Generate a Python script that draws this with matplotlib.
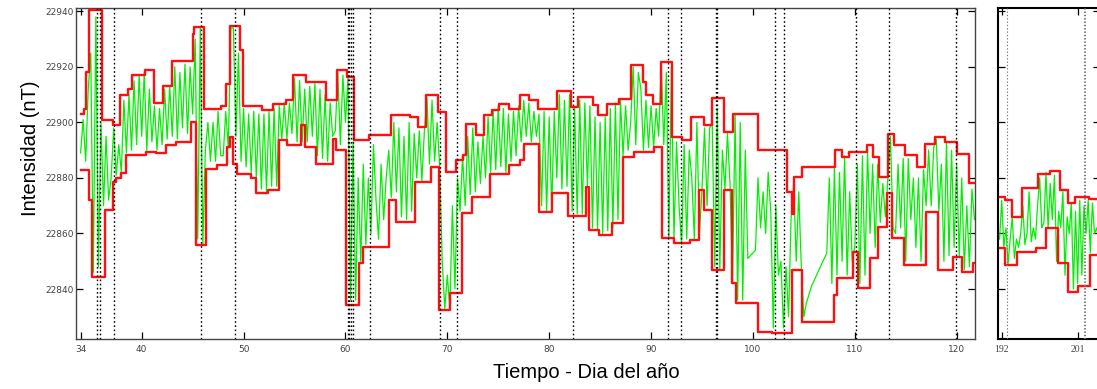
import numpy as np
import matplotlib
matplotlib.use('Agg')
import matplotlib.pyplot as plt

# Envolvente superior / inferior (escalones diarios), periodo principal
dias_sup = [34.0, 34.3, 34.55, 34.8, 36.1, 37.2, 37.9, 38.7, 39.0, 40.3, 41.2, 42.1, 43.0, 45.0,
            45.15, 46.1, 47.8, 48.3, 48.7, 49.6, 49.9, 51.85, 52.85, 54.2, 54.9, 56.1, 58.1, 59.2,
            60.2, 60.8, 62.3, 64.5, 66.3, 67.1, 67.9, 69.05, 69.85, 70.85, 71.5, 71.8, 72.8, 73.6,
            74.4, 75.1, 76.1, 77.1, 78.0, 78.9, 80.8, 82.1, 82.8, 84.3, 84.8, 85.7, 86.9, 88.0,
            89.2, 89.5, 90.15, 90.95, 92.1, 93.0, 93.9, 95.2, 96.0, 97.2, 98.0, 100.5, 103.3, 103.8,
            104.0, 104.8, 108.1, 108.7, 109.4, 111.2, 111.8, 112.4, 113.3, 113.8, 114.9, 116.1,
            116.9, 117.9, 118.9, 120.0, 121.2]
val_sup = [22903, 22905, 22918, 22940.3, 22901, 22899, 22910, 22912, 22917, 22919, 22907, 22913,
           22922, 22932, 22934.5, 22905, 22906, 22914, 22934.6, 22926, 22906, 22904.4, 22906.8,
           22908, 22917, 22914.6, 22908, 22919, 22916.4, 22893.6, 22895.4, 22902.6, 22902,
           22898.4, 22909.8, 22903.8, 22882.2, 22886.4, 22888.2, 22899.6, 22895.4, 22902.6,
           22904.4, 22906.8, 22905, 22909.8, 22908, 22905, 22911.3, 22905.6, 22909.2, 22906.2,
           22902.6, 22906.5, 22908.6, 22920.6, 22914.6, 22910, 22906.8, 22921.8, 22894.8,
           22893.6, 22902, 22899, 22908.8, 22896.6, 22903.2, 22890, 22875, 22867, 22880.4, 22884,
           22890, 22887.6, 22889.4, 22891.8, 22887.6, 22880.4, 22896, 22891.8, 22888.2, 22884,
           22892.2, 22894.8, 22893, 22888.8, 22878.2]

dias_inf = [34.0, 34.85, 35.1, 36.4, 37.15, 37.5, 38.0, 38.5, 40.4, 41.4, 42.4, 43.4, 44.8, 45.3,
            46.3, 47.4, 48.4, 48.7, 48.95, 49.4, 50.7, 51.2, 52.4, 53.5, 54.3, 55.6, 56.0, 57.1,
            58.75, 59.1, 60.1, 61.35, 61.7, 64.3, 65.0, 66.8, 68.4, 69.2, 70.3, 71.4, 72.4, 74.2,
            76.1, 77.1, 77.5, 79.0, 80.3, 81.8, 83.6, 83.9, 84.9, 86.2, 87.2, 88.3, 90.3, 91.1,
            92.3, 93.8, 94.7, 95.2, 96.0, 97.2, 97.9, 98.3, 100.5, 101.9, 103.8, 104.8, 108.0,
            108.3, 109.8, 110.3, 111.5, 112.3, 113.2, 113.7, 114.8, 117.0, 118.2, 119.6, 120.5,
            121.6]
val_inf = [22883, 22872, 22844.4, 22868.4, 22878.6, 22880, 22881.7, 22888.2, 22889.4, 22889,
           22891.8, 22893, 22900.2, 22856, 22883.4, 22884.6, 22891, 22894.8, 22885.2, 22881.6,
           22879.8, 22874.4, 22875.6, 22893.6, 22891.8, 22899, 22891.2, 22885.2, 22894.2, 22890,
           22834.2, 22849.2, 22855.2, 22872, 22864.2, 22878.6, 22884, 22832.4, 22838.4, 22867.2,
           22873.2, 22881.6, 22884.6, 22886.4, 22892.4, 22867.8, 22874.4, 22866.3, 22876.8,
           22861.2, 22859.4, 22863.6, 22887.6, 22889.4, 22891.2, 22858.2, 22856.4, 22857.6,
           22875.6, 22868.4, 22846.8, 22875.6, 22842, 22834.8, 22824.6, 22824, 22846.8, 22828,
           22838, 22844, 22853.4, 22840.3, 22851, 22862.4, 22874.4, 22858.2, 22848.6, 22867.8,
           22847, 22851.6, 22846.2, 22849.2]
fin_1 = 121.8

# Intensidad medida, 4 muestras por dia desde el dia 34
dia0_1 = 34.0
verde_1 = [
    22889, 22901, 22886, 22912,  22925, 22846, 22938, 22848,  22900, 22870, 22895, 22872,
    22880, 22898, 22881, 22892,  22882, 22908, 22889, 22910,  22890, 22915, 22892, 22917,
    22895, 22918, 22890, 22912,  22893, 22906, 22890, 22905,  22892, 22912, 22894, 22913,
    22895, 22920, 22894, 22918,  22898, 22921, 22896, 22920,  22903, 22930, 22858, 22934,
    22856, 22890, 22900, 22886,  22900, 22886, 22904, 22888,  22888, 22904, 22891, 22934,
    22934, 22895, 22925, 22886,  22905, 22884, 22903, 22882,  22904, 22880, 22903, 22876,
    22903, 22875, 22904, 22877,  22905, 22877, 22906, 22894,  22907, 22894, 22907, 22896,
    22916, 22893, 22915, 22893,  22912, 22893, 22913, 22895,  22914, 22888, 22912, 22887,
    22910, 22886, 22907, 22895,  22897, 22918, 22892, 22917,  22900, 22916, 22836, 22893,
    22836, 22880, 22850, 22885,  22856, 22880, 22860, 22892,  22872, 22858, 22885, 22865,
    22880, 22890, 22873, 22900,  22875, 22898, 22866, 22895,  22865, 22900, 22868, 22896,
    22880, 22897, 22879, 22897,  22909, 22885, 22908, 22886,  22900, 22884, 22850, 22833,
    22845, 22833, 22870, 22840,  22880, 22868, 22888, 22870,  22895, 22874, 22898, 22875,
    22893, 22878, 22895, 22880,  22902, 22882, 22904, 22883,  22906, 22884, 22905, 22882,
    22903, 22886, 22904, 22888,  22906, 22893, 22908, 22895,  22907, 22893, 22904, 22895,
    22903, 22870, 22904, 22868,  22902, 22869, 22904, 22880,  22910, 22876, 22908, 22877,
    22910, 22868, 22905, 22867,  22908, 22867, 22907, 22877,  22906, 22862, 22902, 22861,
    22900, 22860, 22902, 22861,  22905, 22862, 22907, 22865,  22908, 22888, 22906, 22890,
    22900, 22920, 22892, 22918,  22912, 22890, 22908, 22891,  22906, 22891, 22905, 22895,
    22921, 22892, 22918, 22858,  22920, 22858, 22893, 22870,  22856, 22892, 22858, 22890,
    22880, 22858, 22900, 22860,  22876, 22898, 22870, 22898,  22900, 22848, 22905, 22847,
    22890, 22876, 22896, 22878,  22842, 22903, 22836, 22900,  22836, 22890, 22851, 22852,
    22853, 22854, 22880, 22862,  22875, 22860, 22882, 22868,  22826, 22870, 22845, 22850,
    22826, 22848, 22830, 22866,  22878, 22850, 22875, 22848,  22830, 22835, 22838, 22841,
    22843, 22845, 22847, 22849,  22851, 22853, 22880, 22842,  22884, 22845, 22882, 22850,
    22888, 22845, 22875, 22850,  22855, 22885, 22842, 22888,  22845, 22890, 22860, 22885,
    22855, 22885, 22864, 22878,  22866, 22880, 22895, 22862,  22860, 22885, 22862, 22887,
    22850, 22887, 22865, 22880,  22855, 22880, 22850, 22883,  22870, 22890, 22870, 22891,
    22894, 22868, 22885, 22850,  22893, 22852, 22890, 22855,  22885, 22852, 22880, 22847,
    22870, 22848, 22876, 22865,
]

# Segundo periodo (dias 192 - 203)
dias_sup2 = [191.8, 192.4, 193.2, 194.4, 196.3, 197.7, 198.9, 199.9, 200.7, 202.3]
val_sup2 = [22873.2, 22872, 22866, 22876.2, 22881.4, 22882.6, 22875.6, 22871, 22873.2, 22872.3]
dias_inf2 = [191.8, 192.4, 193.8, 196.1, 197.3, 198.7, 199.9, 201.1, 202.5]
val_inf2 = [22854.6, 22848.6, 22853.4, 22854.6, 22861.8, 22849.2, 22839, 22841, 22852.2]
fin_2 = 203.65

dia0_2 = 191.75
verde_2 = [
    22858,
    22872, 22855, 22862, 22849,  22858, 22866, 22851, 22858,  22855, 22860, 22870, 22856,
    22860, 22875, 22857, 22862,  22858, 22870, 22880, 22862,  22864, 22882, 22862, 22878,
    22865, 22881, 22850, 22868,  22862, 22875, 22845, 22866,  22860, 22871, 22840, 22868,
    22842, 22872, 22845, 22870,  22860, 22872, 22853, 22871,  22860, 22862, 22858,
]

# Eventos (lineas punteadas)
eventos_1 = [35.66, 35.92, 37.24, 45.78, 49.2, 60.26, 60.39, 60.52, 60.71, 62.37, 69.25, 70.97,
             82.32, 91.7, 92.91, 96.37, 96.5, 102.19, 103.04, 110.07, 113.36, 119.93]
eventos_2 = [192.6, 201.7, 201.9]

ticks_x1 = [34, 40, 50, 60, 70, 80, 90, 100, 110, 120]
ticks_x2 = [192, 201]
ticks_y = [22840, 22860, 22880, 22900, 22920, 22940]


def envolvente(ax, dias, vals, fin):
    # escalon hasta el final del periodo
    ax.step(list(dias) + [fin], list(vals) + [vals[-1]], where='post',
            color='#ff1010', lw=1.7, zorder=3)


def panel(ax, dia0, verde, d_sup, v_sup, d_inf, v_inf, fin, eventos, ev_color, ev_lw):
    t = dia0 + np.arange(len(verde)) / 4.0
    ax.plot(t, verde, color='#00f000', lw=0.9, zorder=2)
    envolvente(ax, d_sup, v_sup, fin)
    envolvente(ax, d_inf, v_inf, fin)
    for e in eventos:
        ax.axvline(e, color=ev_color, lw=ev_lw, ls=(0, (1.2, 1.8)), zorder=4)
    ax.set_ylim(22822, 22941.2)
    ax.set_yticks(ticks_y)
    ax.tick_params(direction='in', top=True, right=True, length=5, width=0.9,
                   labelsize=6.5, labelcolor='#444444', pad=4)
    ax.tick_params(axis='y', pad=1.5)


fig = plt.figure(figsize=(10.97, 3.89), dpi=100)
ax1 = fig.add_axes([76 / 1097, 50 / 389, 899 / 1097, 331 / 389])
ax2 = fig.add_axes([998 / 1097, 50 / 389, 102 / 1097, 331 / 389])

panel(ax1, dia0_1, verde_1, dias_sup, val_sup, dias_inf, val_inf, fin_1, eventos_1, 'black', 1.0)
ax1.set_xlim(33.55, fin_1)
ax1.set_xticks(ticks_x1)
for s in ax1.spines.values():
    s.set_color('#444444')
    s.set_linewidth(1.0)

panel(ax2, dia0_2, verde_2, dias_sup2, val_sup2, dias_inf2, val_inf2, fin_2, eventos_2, '#777777', 0.8)
ax2.set_xlim(191.56, fin_2)
ax2.set_xticks(ticks_x2)
ax2.tick_params(labelleft=False)
for lab in ax2.get_xticklabels():
    lab.set_family('Liberation Serif')
    lab.set_fontsize(7)
for s in ax2.spines.values():
    s.set_color('black')
    s.set_linewidth(1.5)

fig.text(30 / 1097, 1 - 148 / 389, 'Intensidad (nT)', rotation=90, ha='center', va='center',
         fontsize=14.5, family='Liberation Sans')
fig.text(586 / 1097, 1 - 373 / 389, 'Tiempo - Dia del año', ha='center', va='center',
         fontsize=14.5, family='Liberation Sans')

fig.savefig('out.png', dpi=100)
